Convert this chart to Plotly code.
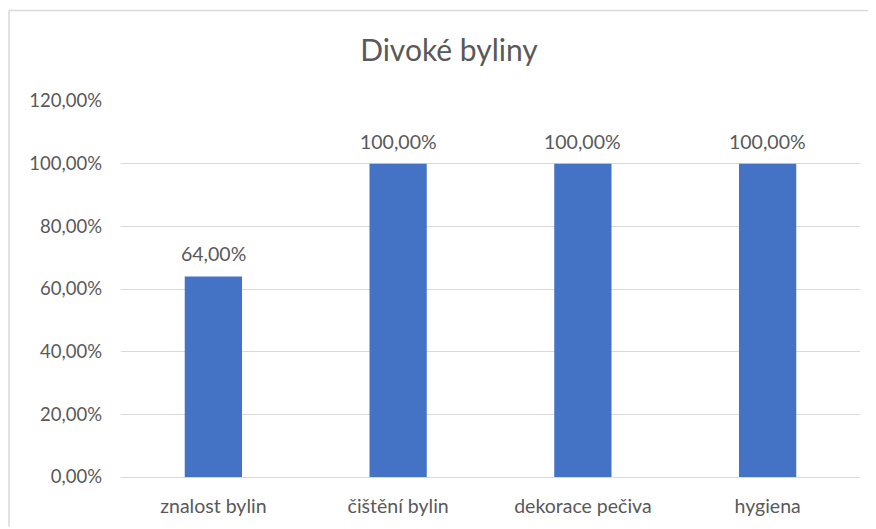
import plotly.graph_objects as go

categories = ["znalost bylin", "čištění bylin", "dekorace pečiva", "hygiena"]
values = [0.64, 1.00, 1.00, 1.00]
title_text = "Divoké byliny"

BAR_COLOR = "#4472C4"
TEXT_COLOR = "#595959"
GRID_COLOR = "#D9D9D9"
FONT = "Lato, 'Open Sans', sans-serif"

# page body has an 8px offset; compensate
OFF = 8
FW, FH = 876 - OFF, 529 - OFF

fig = go.Figure()
fig.add_trace(go.Bar(
    x=categories,
    y=values,
    marker=dict(color=BAR_COLOR, line=dict(width=0)),
    hoverinfo="skip",
))

for c, v in zip(categories, values):
    fig.add_annotation(
        x=c, y=v, xref="x", yref="y",
        text=f"{v*100:.2f}%".replace(".", ","),
        showarrow=False, yanchor="bottom", yshift=9,
        font=dict(family=FONT, size=19.5, color=TEXT_COLOR),
    )

# target pixel coordinates in the 876x529 window
L, R, T, B = 121, 860, 101, 479
W, H = R - L, B - T
def px(xp): return (xp - L) / W
def py(yp): return (B - yp) / H
fig.add_shape(type="line", xref="paper", yref="paper",
              x0=px(9), x1=px(876), y0=py(10), y1=py(10),
              line=dict(color="#D9D9D9", width=1.5))
fig.add_shape(type="line", xref="paper", yref="paper",
              x0=px(9), x1=px(9), y0=py(10), y1=py(529),
              line=dict(color="#D9D9D9", width=1.5))

fig.update_layout(
    width=FW, height=FH,
    margin=dict(l=L - OFF, r=876 - R, t=T - OFF, b=529 - B),
    paper_bgcolor="white", plot_bgcolor="white",
    separators=", ",
    title=dict(text=title_text, x=(449 - OFF) / FW, xanchor="center", xref="container",
               y=1 - (50 - OFF) / FH, yanchor="middle", yref="container",
               font=dict(family=FONT, size=30, color=TEXT_COLOR)),
    bargap=0.69,
    showlegend=False,
    font=dict(family=FONT, color=TEXT_COLOR),
    xaxis=dict(showgrid=False, showline=False, ticks="",
               tickfont=dict(family=FONT, size=19.5, color=TEXT_COLOR),
               ticklabelstandoff=15),
    yaxis=dict(range=[0, 1.2], tickvals=[0, 0.2, 0.4, 0.6, 0.8, 1.0, 1.2],
               tickformat=".2%", showgrid=True, gridcolor=GRID_COLOR,
               gridwidth=1.3, zeroline=True, zerolinecolor=GRID_COLOR,
               zerolinewidth=1.3, showline=False, ticks="",
               tickfont=dict(family=FONT, size=18.5, color=TEXT_COLOR),
               ticklabelstandoff=18),
)

fig.write_html("out.html")
